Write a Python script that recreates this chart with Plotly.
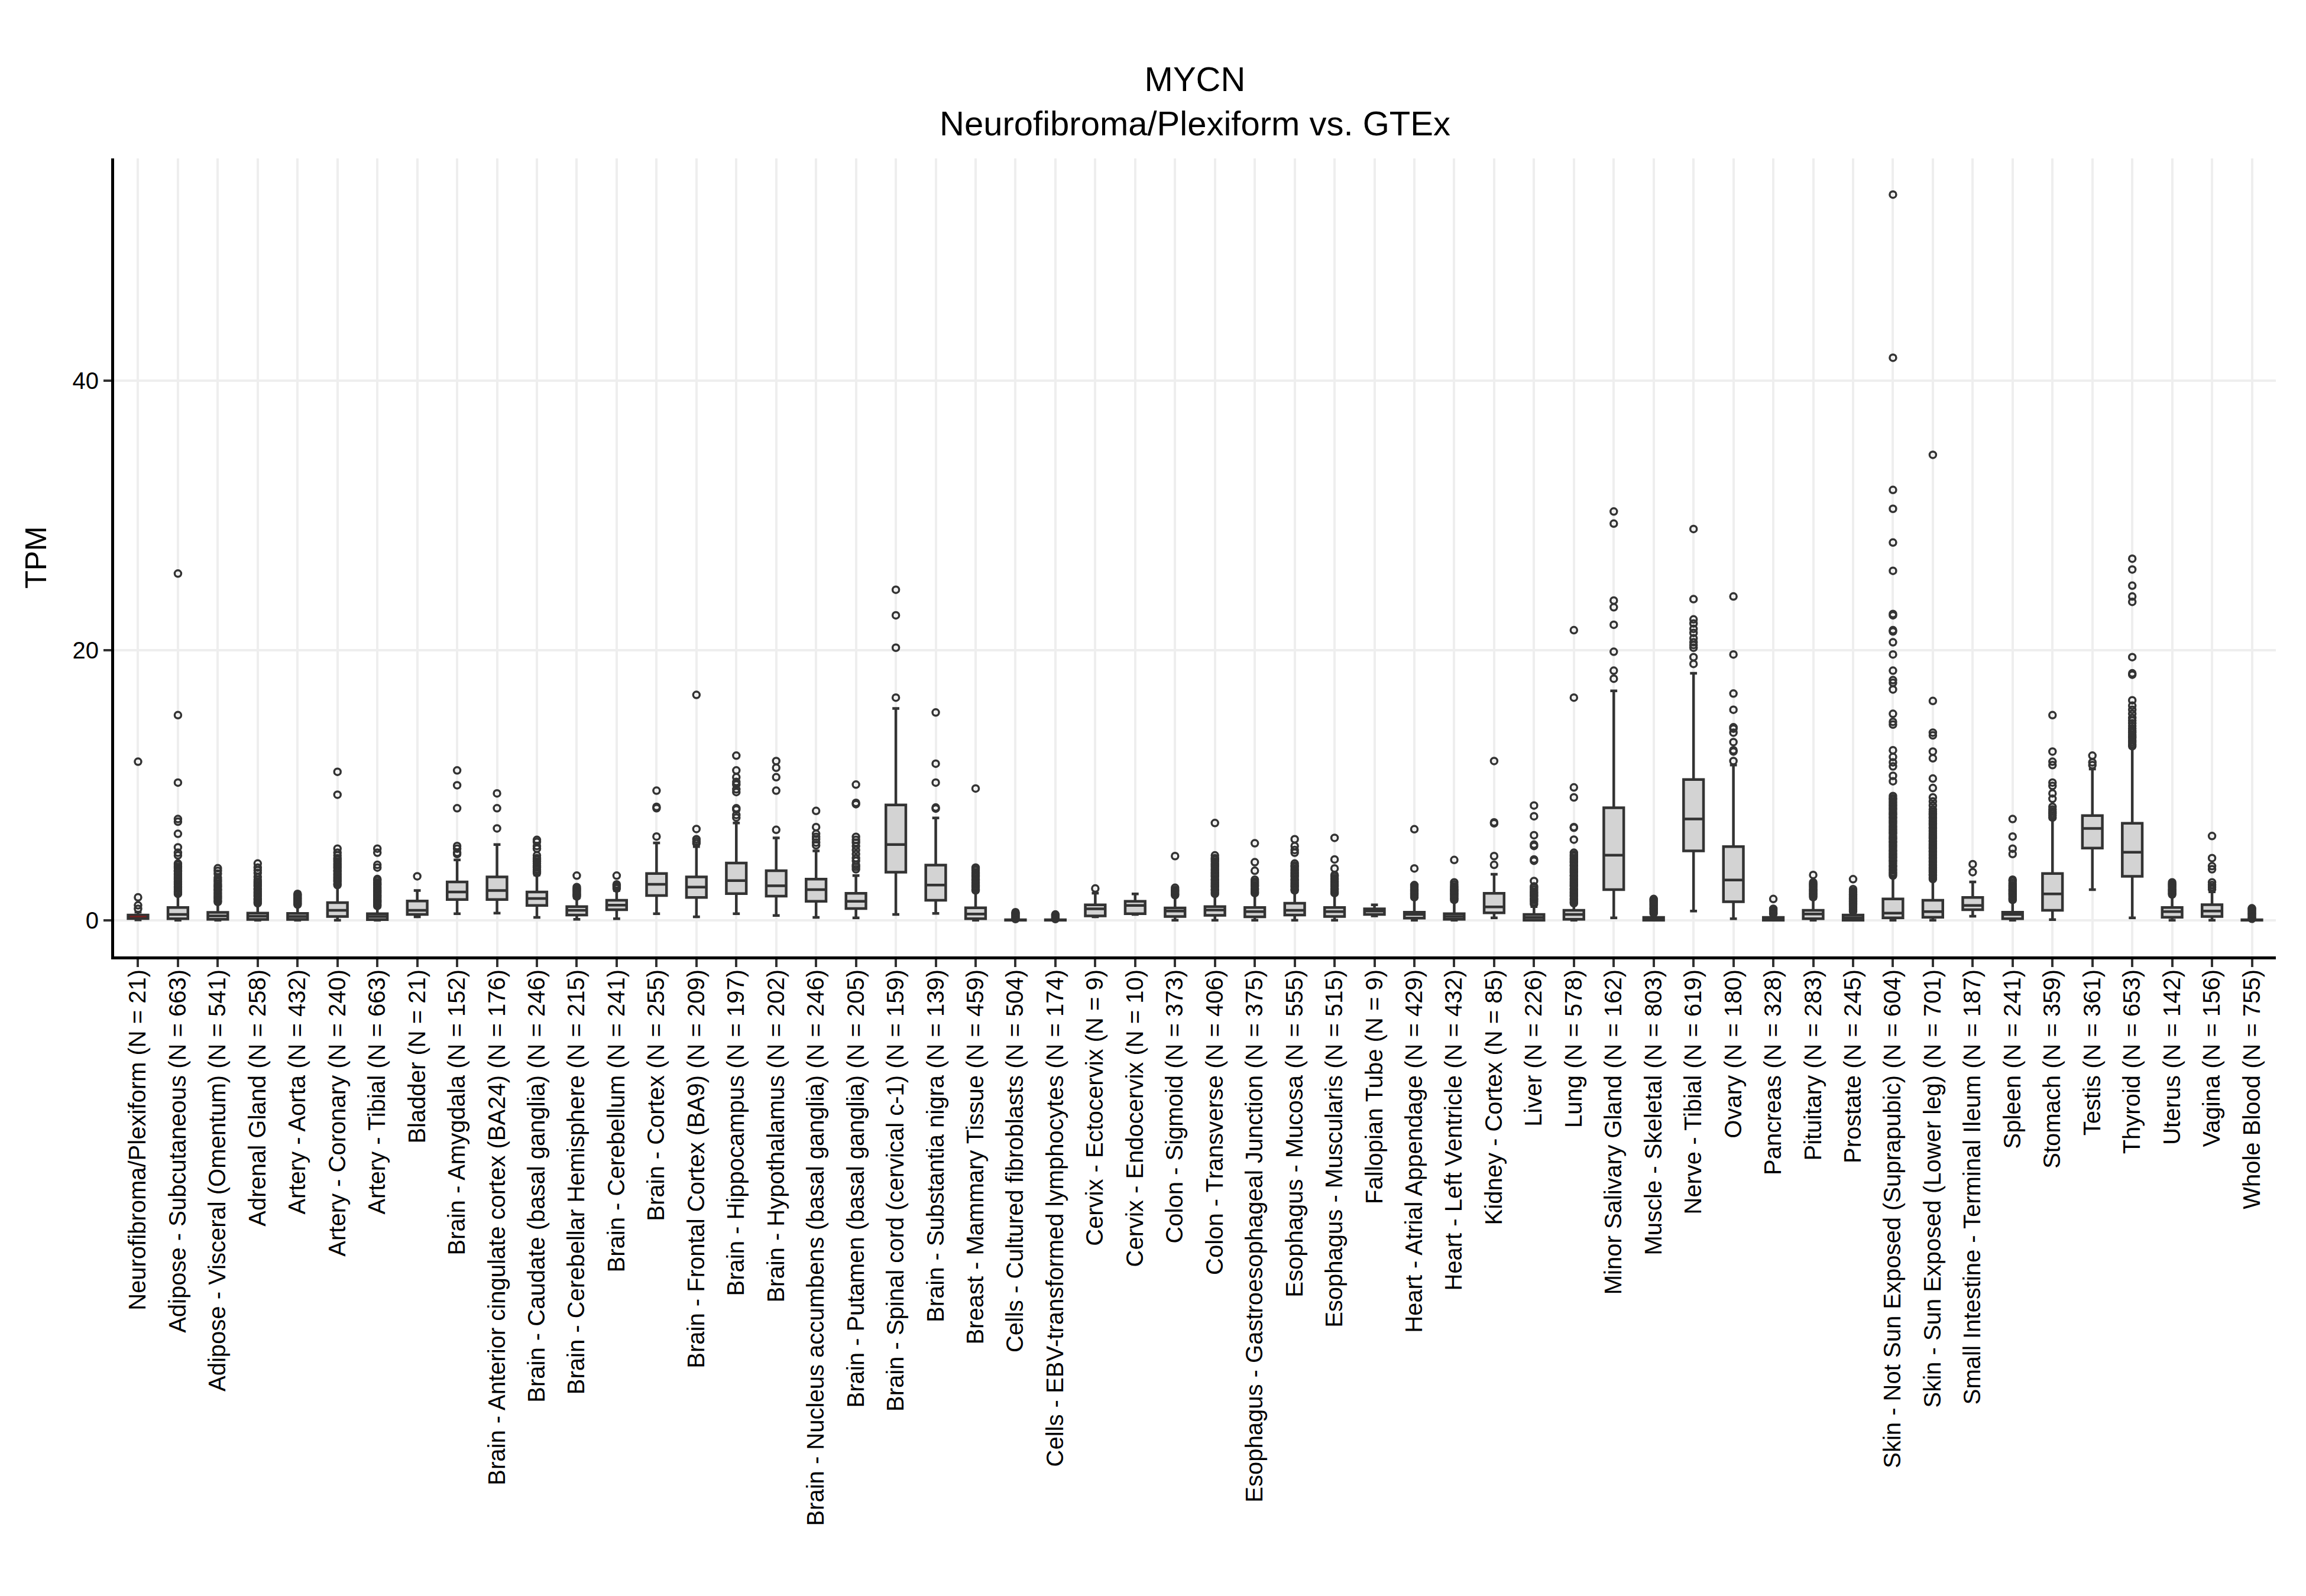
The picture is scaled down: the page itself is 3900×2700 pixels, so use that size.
import plotly.graph_objects as go

# tissue labels (x categories)
tissues = [
    "Neurofibroma/Plexiform (N = 21)", "Adipose - Subcutaneous (N = 663)",
    "Adipose - Visceral (Omentum) (N = 541)", "Adrenal Gland (N = 258)",
    "Artery - Aorta (N = 432)", "Artery - Coronary (N = 240)", "Artery - Tibial (N = 663)",
    "Bladder (N = 21)", "Brain - Amygdala (N = 152)",
    "Brain - Anterior cingulate cortex (BA24) (N = 176)",
    "Brain - Caudate (basal ganglia) (N = 246)", "Brain - Cerebellar Hemisphere (N = 215)",
    "Brain - Cerebellum (N = 241)", "Brain - Cortex (N = 255)",
    "Brain - Frontal Cortex (BA9) (N = 209)", "Brain - Hippocampus (N = 197)",
    "Brain - Hypothalamus (N = 202)", "Brain - Nucleus accumbens (basal ganglia) (N = 246)",
    "Brain - Putamen (basal ganglia) (N = 205)", "Brain - Spinal cord (cervical c-1) (N = 159)",
    "Brain - Substantia nigra (N = 139)", "Breast - Mammary Tissue (N = 459)",
    "Cells - Cultured fibroblasts (N = 504)", "Cells - EBV-transformed lymphocytes (N = 174)",
    "Cervix - Ectocervix (N = 9)", "Cervix - Endocervix (N = 10)", "Colon - Sigmoid (N = 373)",
    "Colon - Transverse (N = 406)", "Esophagus - Gastroesophageal Junction (N = 375)",
    "Esophagus - Mucosa (N = 555)", "Esophagus - Muscularis (N = 515)",
    "Fallopian Tube (N = 9)", "Heart - Atrial Appendage (N = 429)",
    "Heart - Left Ventricle (N = 432)", "Kidney - Cortex (N = 85)", "Liver (N = 226)",
    "Lung (N = 578)", "Minor Salivary Gland (N = 162)", "Muscle - Skeletal (N = 803)",
    "Nerve - Tibial (N = 619)", "Ovary (N = 180)", "Pancreas (N = 328)",
    "Pituitary (N = 283)", "Prostate (N = 245)",
    "Skin - Not Sun Exposed (Suprapubic) (N = 604)", "Skin - Sun Exposed (Lower leg) (N = 701)",
    "Small Intestine - Terminal Ileum (N = 187)", "Spleen (N = 241)", "Stomach (N = 359)",
    "Testis (N = 361)", "Thyroid (N = 653)", "Uterus (N = 142)", "Vagina (N = 156)",
    "Whole Blood (N = 755)",
]

# box statistics (TPM)
q1 = [0.12, 0.10, 0.06, 0.05, 0.05, 0.27, 0.04, 0.42, 1.53, 1.53,
      1.09, 0.38, 0.77, 1.82, 1.68, 1.97, 1.78, 1.40, 0.86, 3.56,
      1.47, 0.10, 0.00, 0.00, 0.31, 0.48, 0.27, 0.36, 0.25, 0.38,
      0.27, 0.42, 0.15, 0.06, 0.54, 0.00, 0.06, 2.26, 0.00, 5.13,
      1.36, 0.00, 0.10, 0.00, 0.17, 0.21, 0.77, 0.10, 0.73, 5.34,
      3.25, 0.21, 0.27, 0.00]
median = [0.27, 0.42, 0.31, 0.29, 0.27, 0.73, 0.27, 0.73, 2.09, 2.20,
          1.61, 0.73, 1.11, 2.66, 2.45, 2.93, 2.55, 2.26, 1.40, 5.61,
          2.60, 0.46, 0.01, 0.01, 0.84, 1.09, 0.67, 0.75, 0.63, 0.73,
          0.63, 0.67, 0.42, 0.27, 0.98, 0.20, 0.42, 4.82, 0.08, 7.50,
          2.97, 0.06, 0.46, 0.17, 0.52, 0.63, 1.09, 0.42, 1.95, 6.80,
          5.03, 0.63, 0.67, 0.01]
q3 = [0.38, 0.94, 0.57, 0.52, 0.50, 1.30, 0.48, 1.42, 2.83, 3.20,
      2.09, 1.00, 1.47, 3.46, 3.20, 4.23, 3.66, 3.04, 1.99, 8.54,
      4.08, 0.92, 0.03, 0.03, 1.13, 1.40, 0.90, 1.00, 0.94, 1.26,
      0.94, 0.84, 0.59, 0.48, 1.99, 0.42, 0.73, 8.33, 0.20, 10.43,
      5.45, 0.20, 0.73, 0.38, 1.57, 1.47, 1.68, 0.59, 3.46, 7.75,
      7.18, 0.94, 1.15, 0.03]
lower = [0.02, 0.00, 0.00, 0.00, 0.00, 0.00, 0.00, 0.25, 0.48, 0.52,
         0.20, 0.06, 0.10, 0.48, 0.25, 0.48, 0.34, 0.20, 0.17, 0.42,
         0.50, 0.00, 0.00, 0.00, 0.25, 0.42, 0.00, 0.00, 0.00, 0.00,
         0.00, 0.31, 0.00, 0.00, 0.17, 0.00, 0.00, 0.17, 0.00, 0.67,
         0.10, 0.00, 0.00, 0.00, 0.00, 0.00, 0.29, 0.00, 0.04, 2.26,
         0.17, 0.00, 0.00, 0.00]
upper = [0.60, 1.90, 1.30, 1.20, 1.10, 2.55, 1.00, 2.20, 4.46, 5.60,
         3.35, 1.65, 2.20, 5.72, 5.45, 7.20, 6.10, 5.13, 3.30, 15.70,
         7.58, 2.10, 0.07, 0.07, 2.00, 1.95, 1.80, 1.90, 1.95, 2.10,
         1.95, 1.13, 1.60, 1.40, 3.40, 1.00, 1.20, 17.00, 0.45, 18.30,
         11.50, 0.40, 1.60, 0.60, 3.25, 3.00, 2.83, 1.40, 7.50, 11.20,
         12.80, 1.85, 2.10, 0.07]

# outlying samples per tissue
outliers = [
    [0.84, 1.10, 1.69, 11.75],
    [1.95, 2.05, 2.15, 2.3, 2.4, 2.5, 2.65, 2.75, 2.85, 3.0, 3.1, 3.2, 3.35, 3.45, 3.6, 3.7,
     3.85, 3.95, 4.1, 4.2, 4.8, 5.0, 5.4, 6.4, 7.3, 7.5, 10.2, 15.2, 25.7],
    [1.35, 1.45, 1.6, 1.7, 1.8, 1.95, 2.05, 2.2, 2.3, 2.45, 2.55, 2.7, 2.85, 3.0, 3.15, 3.45,
     3.65, 3.85],
    [1.25, 1.35, 1.5, 1.6, 1.75, 1.85, 2.0, 2.1, 2.25, 2.35, 2.5, 2.6, 2.75, 2.85, 3.0, 3.2,
     3.5, 3.7, 3.9, 4.2],
    [1.15, 1.25, 1.35, 1.45, 1.55, 1.65, 1.75, 1.85, 1.95],
    [2.6, 2.7, 2.85, 2.95, 3.1, 3.2, 3.35, 3.45, 3.6, 3.7, 3.85, 3.95, 4.1, 4.2, 4.35, 4.5,
     4.6, 4.8, 5.0, 5.3, 9.3, 11.0],
    [1.05, 1.15, 1.3, 1.4, 1.5, 1.65, 1.75, 1.85, 2.0, 2.1, 2.2, 2.35, 2.45, 2.6, 2.7, 2.8,
     2.95, 3.05, 3.9, 4.1, 5.0, 5.3],
    [3.25],
    [4.9, 5.0, 5.3, 5.5, 8.3, 10.0, 11.1],
    [6.8, 8.3, 9.4],
    [3.5, 3.6, 3.75, 3.9, 4.0, 4.2, 4.35, 4.5, 4.6, 4.8, 5.3, 5.5, 5.8, 5.95],
    [1.75, 1.85, 1.95, 2.05, 2.15, 2.25, 2.35, 2.45, 3.3],
    [2.35, 2.45, 2.55, 2.65, 3.3],
    [6.2, 8.3, 8.4, 9.6],
    [5.7, 5.85, 6.0, 6.76, 16.7],
    [7.6, 7.8, 8.2, 8.3, 9.5, 9.7, 10.05, 10.25, 10.6, 11.1, 12.2],
    [6.7, 9.6, 10.6, 11.3, 11.8],
    [5.55, 5.75, 6.0, 6.18, 6.4, 6.9, 8.1],
    [3.77, 3.95, 4.1, 4.4, 4.6, 4.9, 5.2, 5.5, 5.75, 5.95, 6.18, 8.6, 8.7, 10.05],
    [16.5, 20.2, 22.6, 24.5],
    [8.27, 8.35, 10.2, 11.6, 15.4],
    [2.2, 2.3, 2.45, 2.55, 2.7, 2.8, 2.95, 3.05, 3.2, 3.3, 3.45, 3.55, 3.7, 3.8, 3.9, 9.76],
    [0.08, 0.15, 0.22, 0.3, 0.38, 0.45, 0.52, 0.59],
    [0.08, 0.15, 0.22, 0.3, 0.36, 0.42],
    [2.35],
    [],
    [1.85, 1.95, 2.05, 2.15, 2.25, 2.4, 4.75],
    [1.95, 2.05, 2.2, 2.3, 2.45, 2.55, 2.7, 2.8, 2.95, 3.05, 3.2, 3.3, 3.45, 3.55, 3.7,
     3.8, 3.95, 4.1, 4.2, 4.35, 4.5, 4.6, 4.8, 7.2],
    [2.0, 2.1, 2.25, 2.35, 2.5, 2.6, 2.75, 2.85, 3.0, 3.66, 4.3, 5.7],
    [2.2, 2.3, 2.45, 2.55, 2.7, 2.8, 2.95, 3.05, 3.2, 3.3, 3.45, 3.55, 3.7, 3.8, 3.95, 4.05,
     4.2, 5.0, 5.2, 5.5, 6.0],
    [2.0, 2.1, 2.25, 2.35, 2.5, 2.6, 2.75, 2.85, 3.0, 3.1, 3.25, 3.35, 3.83, 4.5, 6.1],
    [],
    [1.7, 1.8, 1.9, 2.0, 2.1, 2.2, 2.3, 2.4, 2.5, 2.6, 3.83, 6.74],
    [1.5, 1.6, 1.7, 1.8, 1.9, 2.0, 2.1, 2.2, 2.3, 2.4, 2.5, 2.65, 2.8, 4.46],
    [4.1, 4.75, 7.18, 7.25, 11.8],
    [1.2, 1.35, 1.5, 1.6, 1.75, 1.85, 2.0, 2.1, 2.25, 2.4, 2.5, 2.9, 4.4, 4.5, 5.5, 5.6,
     6.3, 7.7, 8.5],
    [1.25, 1.35, 1.5, 1.6, 1.75, 1.85, 2.0, 2.1, 2.25, 2.35, 2.5, 2.6, 2.75, 2.85, 3.0,
     3.1, 3.25, 3.35, 3.5, 3.6, 3.75, 3.85, 4.0, 4.1, 4.25, 4.35, 4.5, 4.6, 4.75, 4.85, 5.0,
     5.97, 6.85, 6.9, 9.1, 9.84, 16.5, 21.5],
    [17.9, 18.5, 19.9, 21.9, 23.2, 23.7, 29.4, 30.3],
    [0.5, 0.6, 0.7, 0.8, 0.9, 1.0, 1.1, 1.2, 1.3, 1.4, 1.5, 1.57],
    [19.0, 19.5, 20.2, 20.4, 20.6, 20.9, 21.3, 21.6, 22.0, 22.3, 23.8, 29.0],
    [11.8, 12.5, 12.6, 13.2, 13.9, 14.2, 14.3, 15.6, 16.8, 19.7, 24.0],
    [0.45, 0.55, 0.65, 0.75, 0.84, 1.57],
    [1.7, 1.8, 1.9, 2.0, 2.1, 2.2, 2.3, 2.4, 2.5, 2.6, 2.7, 2.8, 3.35],
    [0.65, 0.75, 0.85, 0.95, 1.05, 1.15, 1.25, 1.35, 1.45, 1.55, 1.65, 1.75, 1.85, 1.95,
     2.05, 2.15, 2.3, 3.04],
    [3.3, 3.45, 3.55, 3.7, 3.8, 3.95, 4.05, 4.2, 4.35, 4.45, 4.6, 4.7, 4.85, 4.95, 5.1,
     5.2, 5.35, 5.5, 5.6, 5.75, 5.85, 6.0, 6.1, 6.25, 6.4, 6.5, 6.65, 6.75, 6.9, 7.0, 7.15,
     7.3, 7.4, 7.55, 7.65, 7.8, 7.9, 8.05, 8.2, 8.3, 8.45, 8.55, 8.7, 8.8, 8.95, 9.05, 9.2,
     10.3, 10.7, 11.4, 11.7, 12.1, 12.6, 14.5, 14.7, 15.3, 17.1, 17.6, 17.8, 18.5, 19.7,
     20.6, 21.4, 21.5, 22.6, 22.7, 25.9, 28.0, 30.5, 31.9, 41.7, 53.8],
    [3.05, 3.15, 3.3, 3.4, 3.55, 3.65, 3.8, 3.9, 4.05, 4.15, 4.3, 4.4, 4.55, 4.65, 4.8,
     4.9, 5.05, 5.15, 5.3, 5.4, 5.55, 5.65, 5.8, 5.9, 6.05, 6.15, 6.3, 6.4, 6.55, 6.65, 6.8,
     6.9, 7.05, 7.15, 7.3, 7.4, 7.55, 7.65, 7.8, 7.9, 8.05, 8.2, 8.5, 8.8, 9.1, 9.8, 10.5,
     12.0, 12.5, 13.7, 13.9, 16.25, 34.5],
    [3.56, 4.15],
    [1.5, 1.6, 1.7, 1.8, 1.9, 2.0, 2.1, 2.2, 2.3, 2.4, 2.5, 2.6, 2.75, 2.9, 3.0, 4.9, 5.3,
     6.2, 7.5],
    [7.6, 7.75, 7.9, 8.05, 8.2, 8.4, 9.0, 9.4, 9.95, 10.2, 11.5, 11.75, 12.5, 15.2],
    [11.5, 11.7, 12.2],
    [12.9, 13.05, 13.2, 13.35, 13.5, 13.6, 13.75, 13.9, 14.05, 14.2, 14.4, 14.6, 14.8, 15.0,
     15.3, 15.6, 15.9, 16.3, 18.2, 18.3, 19.5, 23.6, 24.0, 24.8, 26.0, 26.8],
    [1.9, 2.0, 2.1, 2.2, 2.3, 2.4, 2.5, 2.6, 2.7, 2.8],
    [2.3, 2.45, 2.6, 2.8, 3.77, 4.0, 4.6, 6.24],
    [0.1, 0.2, 0.3, 0.4, 0.5, 0.6, 0.7, 0.8, 0.88],
]

box_line = "#333333"
box_fill = "#D3D3D3"
font = "Liberation Sans, Arial, Helvetica, sans-serif"

fig = go.Figure()

# GTEx tissues
fig.add_trace(go.Box(
    x=tissues[1:], q1=q1[1:], median=median[1:], q3=q3[1:],
    lowerfence=lower[1:], upperfence=upper[1:],
    boxpoints=False, width=0.5, whiskerwidth=0.35,
    line=dict(color=box_line, width=4.5), fillcolor=box_fill,
    showlegend=False, hoverinfo="skip",
))

# tumour group: tiny box, dark red median
fig.add_trace(go.Box(
    x=tissues[:1], q1=q1[:1], median=median[:1], q3=q3[:1],
    lowerfence=lower[:1], upperfence=upper[:1],
    boxpoints=False, width=0.5, whiskerwidth=0.35,
    line=dict(color=box_line, width=4.5), fillcolor=box_line,
    showlegend=False, hoverinfo="skip",
))
fig.add_trace(go.Box(
    x=tissues[:1], q1=median[:1], median=median[:1], q3=median[:1],
    lowerfence=median[:1], upperfence=median[:1],
    boxpoints=False, width=0.42, whiskerwidth=0.35,
    line=dict(color="#7A1F1F", width=2.5), fillcolor="rgba(0,0,0,0)",
    showlegend=False, hoverinfo="skip",
))

# outliers
ox, oy = [], []
for name, vals in zip(tissues, outliers):
    for v in vals:
        ox.append(name)
        oy.append(v)
fig.add_trace(go.Scatter(
    x=ox, y=oy, mode="markers",
    marker=dict(symbol="circle-open", size=11, color=box_line,
                line=dict(width=3.5, color=box_line)),
    showlegend=False, hoverinfo="skip",
))

axis_common = dict(
    showline=True, linecolor="black", linewidth=5,
    ticks="outside", ticklen=13, tickwidth=4, tickcolor="#333333",
    showgrid=True, gridcolor="#EEEEEE", gridwidth=4, zeroline=False,
    tickfont=dict(family=font, size=40, color="black"),
)

fig.update_layout(
    width=3900, height=2700,
    paper_bgcolor="white", plot_bgcolor="white",
    margin=dict(l=185, r=59, t=260, b=1090),
    boxmode="overlay",
    title=dict(
        text="MYCN<br>Neurofibroma/Plexiform vs. GTEx",
        x=0.5, xref="paper", xanchor="center",
        y=0.946, yref="container", yanchor="top",
        font=dict(family=font, size=58, color="black"),
    ),
    xaxis=dict(
        type="category", categoryorder="array", categoryarray=tissues,
        range=[-0.6, len(tissues) - 0.4], tickangle=-90, ticklabelstandoff=-12,
        **axis_common,
    ),
    yaxis=dict(
        range=[-2.69, 56.48], tickvals=[0, 20, 40],
        title=dict(text="TPM", standoff=30, font=dict(family=font, size=50, color="black")),
        **axis_common,
    ),
)

fig.write_html("out.html")
